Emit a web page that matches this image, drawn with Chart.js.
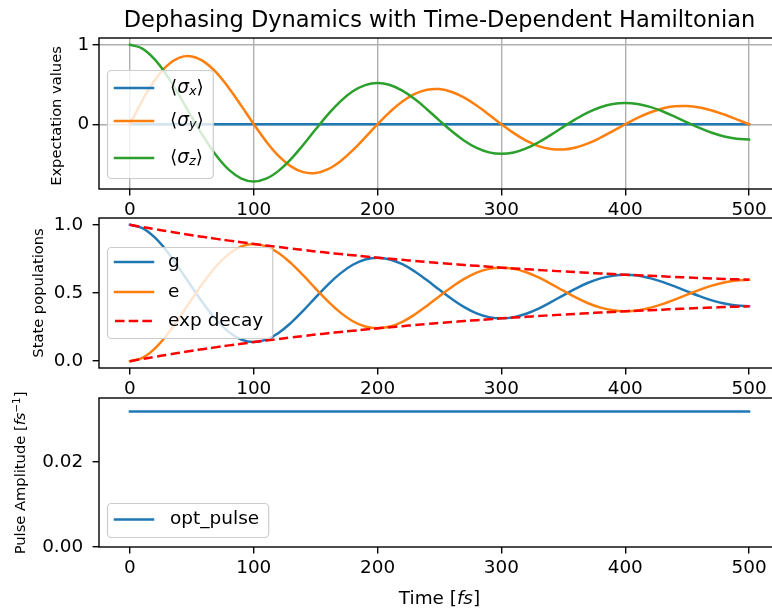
<!DOCTYPE html>
<html lang="en">
<head>
<meta charset="UTF-8">
<title>Dephasing Dynamics with Time-Dependent Hamiltonian</title>
<script src="https://cdn.jsdelivr.net/npm/chart.js@4"></script>
<style>
  body { margin: 0; background: #fff; }
  .figure { position: relative; width: 772px; height: 610px; overflow: hidden; background: #fff; }
  .figure canvas { position: absolute; left: 0; top: 0; }
</style>
</head>
<body>
<div class="figure">
  <canvas id="bloch" width="800" height="610"></canvas>
  <canvas id="pops" width="800" height="610"></canvas>
  <canvas id="pulse" width="800" height="610"></canvas>
</div>
<script>
// sampled time grid [fs]
const time = [0, 10, 20, 30, 40, 50, 60, 70, 80, 90,
  100, 110, 120, 130, 140, 150, 160, 170, 180, 190,
  200, 210, 220, 230, 240, 250, 260, 270, 280, 290,
  300, 310, 320, 330, 340, 350, 360, 370, 380, 390,
  400, 410, 420, 430, 440, 450, 460, 470, 480, 490, 500];

// Bloch vector components
const sigmaX = [0, 0, 0, 0, 0, 0, 0, 0, 0, 0,
  0, 0, 0, 0, 0, 0, 0, 0, 0, 0,
  0, 0, 0, 0, 0, 0, 0, 0, 0, 0,
  0, 0, 0, 0, 0, 0, 0, 0, 0, 0,
  0, 0, 0, 0, 0, 0, 0, 0, 0, 0, 0];
const sigmaY = [0, 0.300, 0.553, 0.737, 0.838, 0.853, 0.785, 0.646, 0.454, 0.231,
  0, -0.216, -0.398, -0.530, -0.603, -0.614, -0.565, -0.465, -0.327, -0.166,
  0, 0.156, 0.287, 0.382, 0.434, 0.442, 0.406, 0.334, 0.235, 0.120,
  0, -0.112, -0.206, -0.275, -0.312, -0.318, -0.292, -0.241, -0.169, -0.086,
  0, 0.081, 0.148, 0.198, 0.225, 0.229, 0.210, 0.173, 0.122, 0.062, 0];
const sigmaZ = [1.000, 0.952, 0.815, 0.609, 0.358, 0.089, -0.172, -0.400, -0.575, -0.683,
  -0.720, -0.685, -0.587, -0.439, -0.258, -0.064, 0.124, 0.288, 0.414, 0.492,
  0.518, 0.493, 0.422, 0.316, 0.186, 0.046, -0.089, -0.207, -0.298, -0.354,
  -0.373, -0.355, -0.304, -0.227, -0.134, -0.033, 0.064, 0.149, 0.214, 0.255,
  0.268, 0.255, 0.219, 0.163, 0.096, 0.024, -0.046, -0.107, -0.154, -0.183, -0.193];

// level populations and the decay envelope
const popG = [1.000, 0.976, 0.908, 0.805, 0.679, 0.544, 0.414, 0.300, 0.213, 0.158,
  0.140, 0.158, 0.207, 0.281, 0.371, 0.468, 0.562, 0.644, 0.707, 0.746,
  0.759, 0.746, 0.711, 0.658, 0.593, 0.523, 0.456, 0.397, 0.351, 0.323,
  0.314, 0.323, 0.348, 0.386, 0.433, 0.483, 0.532, 0.575, 0.607, 0.627,
  0.634, 0.628, 0.609, 0.582, 0.548, 0.512, 0.477, 0.446, 0.423, 0.408, 0.403];
const popE = [0.000, 0.024, 0.092, 0.195, 0.321, 0.456, 0.586, 0.700, 0.787, 0.842,
  0.860, 0.842, 0.793, 0.719, 0.629, 0.532, 0.438, 0.356, 0.293, 0.254,
  0.241, 0.254, 0.289, 0.342, 0.407, 0.477, 0.544, 0.603, 0.649, 0.677,
  0.686, 0.677, 0.652, 0.614, 0.567, 0.517, 0.468, 0.425, 0.393, 0.373,
  0.366, 0.372, 0.391, 0.418, 0.452, 0.488, 0.523, 0.554, 0.577, 0.592, 0.597];
const decayUpper = [1.000, 0.984, 0.968, 0.953, 0.938, 0.924, 0.910, 0.897, 0.884, 0.872,
  0.860, 0.848, 0.837, 0.826, 0.816, 0.805, 0.795, 0.786, 0.777, 0.768,
  0.759, 0.751, 0.743, 0.735, 0.727, 0.720, 0.713, 0.706, 0.699, 0.693,
  0.686, 0.680, 0.675, 0.669, 0.663, 0.658, 0.653, 0.648, 0.643, 0.639,
  0.634, 0.630, 0.626, 0.622, 0.618, 0.614, 0.610, 0.607, 0.603, 0.600, 0.597];
const decayLower = [0.000, 0.016, 0.032, 0.047, 0.062, 0.076, 0.090, 0.103, 0.116, 0.128,
  0.140, 0.152, 0.163, 0.174, 0.184, 0.195, 0.205, 0.214, 0.223, 0.232,
  0.241, 0.249, 0.257, 0.265, 0.273, 0.280, 0.287, 0.294, 0.301, 0.307,
  0.314, 0.320, 0.325, 0.331, 0.337, 0.342, 0.347, 0.352, 0.357, 0.361,
  0.366, 0.370, 0.374, 0.378, 0.382, 0.386, 0.390, 0.393, 0.397, 0.400, 0.403];

// control pulse
const pulseTime = [0, 500];
const pulseAmp = [0.0318, 0.0318];

// ticks
const timeTicks = [0, 100, 200, 300, 400, 500];
const blochTicks = [0, 1];
const popTicks = [0, 0.5, 1];
const pulseTicks = [0, 0.02];

const FONT = '"DejaVu Sans"';
const BLUE = '#1f77b4', ORANGE = '#ff7f0e', GREEN = '#2ca02c', RED = '#ff0000';
const LW = 2.5;

function pts(xs, ys) {
  return xs.map((x, i) => ({ x: x, y: ys[i] }));
}

// rich text: runs of [text, style], style n | i | sub | sup
function runFont(style, size) {
  const small = style === 'sub' || style === 'sup';
  const s = small ? size * 0.7 : size;
  return ((style === 'i' || style === 'sub') ? 'italic ' : '') + s + 'px ' + FONT;
}
function richWidth(ctx, runs, size) {
  let w = 0;
  runs.forEach(([t, st]) => { ctx.font = runFont(st, size); w += ctx.measureText(t).width; });
  return w;
}
function drawRich(ctx, runs, x, y, size, align) {
  let cx = align === 'center' ? x - richWidth(ctx, runs, size) / 2 : x;
  runs.forEach(([t, st]) => {
    ctx.font = runFont(st, size);
    const dy = st === 'sub' ? size * 0.2 : st === 'sup' ? -size * 0.36 : 0;
    ctx.fillText(t, cx, y + dy);
    cx += ctx.measureText(t).width;
  });
}

// frame, titles and in-axes legend
function figureText(cfg) {
  return {
    id: 'figureText',
    afterDatasetsDraw(chart) {
      const { ctx, chartArea: a } = chart;
      ctx.save();
      ctx.strokeStyle = '#000';
      ctx.lineWidth = 1.4;
      ctx.strokeRect(a.left, a.top, a.right - a.left, a.bottom - a.top);

      ctx.fillStyle = '#000';
      ctx.textBaseline = 'alphabetic';
      if (cfg.title) {
        drawRich(ctx, cfg.title, (a.left + a.right) / 2, cfg.titleY, 22.5, 'center');
      }
      if (cfg.xLabel) {
        drawRich(ctx, cfg.xLabel, (a.left + a.right) / 2, cfg.xLabelY, 18.4, 'center');
      }
      if (cfg.yLabel) {
        ctx.save();
        ctx.translate(cfg.yLabelX, cfg.yLabelMid);
        ctx.rotate(-Math.PI / 2);
        drawRich(ctx, cfg.yLabel, 0, 0, 14.7, 'center');
        ctx.restore();
      }

      const lg = cfg.legend;
      const size = 18.5;
      const bx = a.left + lg.dx, by = a.top + lg.dy;
      let tw = 0;
      lg.items.forEach(it => { tw = Math.max(tw, richWidth(ctx, it.runs, size)); });
      const bw = lg.textDx + tw + 9;
      ctx.beginPath();
      ctx.roundRect(bx + 0.5, by + 0.5, bw, lg.h, 4);
      ctx.fillStyle = 'rgba(255,255,255,0.8)';
      ctx.fill();
      ctx.strokeStyle = '#cccccc';
      ctx.lineWidth = 1.2;
      ctx.stroke();

      lg.items.forEach((it, i) => {
        const ds = chart.data.datasets[it.ds];
        const ry = by + lg.rows[i];
        ctx.save();
        ctx.strokeStyle = ds.borderColor;
        ctx.lineWidth = ds.borderWidth;
        ctx.lineCap = ds.borderDash ? 'butt' : 'square';
        ctx.setLineDash(ds.borderDash || []);
        ctx.beginPath();
        ctx.moveTo(bx + 8, ry);
        ctx.lineTo(bx + 46, ry);
        ctx.stroke();
        ctx.restore();
        ctx.fillStyle = '#000';
        ctx.textBaseline = 'middle';
        drawRich(ctx, it.runs, bx + lg.textDx, ry, size, 'left');
      });
      ctx.restore();
    }
  };
}

function makePanel(id, opts) {
  return new Chart(document.getElementById(id), {
    type: 'line',
    data: { datasets: opts.datasets },
    options: {
      responsive: false,
      animation: false,
      events: [],
      layout: { padding: { left: 0, right: 20, top: opts.top, bottom: 610 - opts.bottom - 30 } },
      plugins: { legend: { display: false }, tooltip: { enabled: false } },
      elements: { point: { radius: 0 }, line: { tension: 0.4, borderWidth: LW } },
      scales: {
        x: {
          type: 'linear', min: -25, max: 525,
          afterBuildTicks: ax => { ax.ticks = timeTicks.map(v => ({ value: v })); },
          afterFit: ax => { ax.height = 30; ax.paddingLeft = 0; ax.paddingRight = 0; },
          grid: { display: true, drawOnChartArea: opts.grid, color: '#b0b0b0', lineWidth: 1.4,
                  drawTicks: true, tickLength: 6.4, tickColor: '#000', tickWidth: 1.4 },
          border: { display: false },
          ticks: { autoSkip: false, maxRotation: 0, padding: 4, color: '#000',
                   font: { family: 'DejaVu Sans', size: 18.4 }, callback: v => String(v) }
        },
        y: {
          type: 'linear', min: opts.yMin, max: opts.yMax,
          afterBuildTicks: ax => { ax.ticks = opts.yTicks.map(v => ({ value: v })); },
          afterFit: ax => { ax.width = 99; ax.paddingTop = 0; ax.paddingBottom = 0; },
          grid: { display: true, drawOnChartArea: opts.grid, color: '#b0b0b0', lineWidth: 1.4,
                  drawTicks: true, tickLength: 6.4, tickColor: '#000', tickWidth: 1.4 },
          border: { display: false },
          ticks: { autoSkip: false, padding: opts.yPad, color: '#000',
                   font: { family: 'DejaVu Sans', size: 18.4 }, callback: opts.yFmt }
        }
      }
    },
    plugins: [figureText(opts.text)]
  });
}

const sig = s => [['⟨', 'n'], ['σ', 'i'], [s, 'sub'], ['⟩', 'n']];

makePanel('bloch', {
  top: 38, bottom: 189, yMin: -0.815, yMax: 1.085, yTicks: blochTicks, yPad: 3.5, grid: true,
  yFmt: v => String(v),
  datasets: [
    { label: '⟨σx⟩', data: pts(time, sigmaX), borderColor: BLUE, borderWidth: LW, borderCapStyle: 'square', order: 2 },
    { label: '⟨σy⟩', data: pts(time, sigmaY), borderColor: ORANGE, borderWidth: LW, borderCapStyle: 'square', order: 1 },
    { label: '⟨σz⟩', data: pts(time, sigmaZ), borderColor: GREEN, borderWidth: LW, borderCapStyle: 'square', order: 0 }
  ],
  text: {
    title: [['Dephasing Dynamics with Time-Dependent Hamiltonian', 'n']], titleY: 27,
    yLabel: [['Expectation values', 'n']], yLabelX: 61, yLabelMid: 116,
    legend: { dx: 8, dy: 32, h: 108, textDx: 63, rows: [18, 51, 88],
              items: [{ ds: 0, runs: sig('x') }, { ds: 1, runs: sig('y') }, { ds: 2, runs: sig('z') }] }
  }
});

makePanel('pops', {
  top: 218, bottom: 368, yMin: -0.05, yMax: 1.05, yTicks: popTicks, yPad: 9.5, grid: false,
  yFmt: v => v.toFixed(1),
  datasets: [
    { label: 'g', data: pts(time, popG), borderColor: BLUE, borderWidth: LW, borderCapStyle: 'square', order: 3 },
    { label: 'e', data: pts(time, popE), borderColor: ORANGE, borderWidth: LW, borderCapStyle: 'square', order: 2 },
    { label: 'exp decay', data: pts(time, decayUpper), borderColor: RED, borderWidth: LW,
      borderDash: [9.5, 4.2], order: 1 },
    { label: 'exp decay', data: pts(time, decayLower), borderColor: RED, borderWidth: LW,
      borderDash: [9.5, 4.2], order: 0 }
  ],
  text: {
    yLabel: [['State populations', 'n']], yLabelX: 42.5, yLabelMid: 293,
    legend: { dx: 8, dy: 29, h: 91, textDx: 61, rows: [15, 45, 74],
              items: [{ ds: 0, runs: [['g', 'n']] }, { ds: 1, runs: [['e', 'n']] },
                      { ds: 2, runs: [['exp decay', 'n']] }] }
  }
});

makePanel('pulse', {
  top: 398, bottom: 547, yMin: 0, yMax: 0.035, yTicks: pulseTicks, yPad: 9.5, grid: false,
  yFmt: v => v.toFixed(2),
  datasets: [
    { label: 'opt_pulse', data: pts(pulseTime, pulseAmp), borderColor: BLUE, borderWidth: LW,
      borderCapStyle: 'square', tension: 0 }
  ],
  text: {
    yLabel: [['Pulse Amplitude [', 'n'], ['fs', 'i'], ['−1', 'sup'], [']', 'n']], yLabelX: 25, yLabelMid: 473,
    xLabel: [['Time [', 'n'], ['fs', 'i'], [']', 'n']], xLabelY: 604,
    legend: { dx: 8, dy: 105, h: 34, textDx: 63, rows: [16.5],
              items: [{ ds: 0, runs: [['opt_pulse', 'n']] }] }
  }
});
</script>
</body>
</html>
